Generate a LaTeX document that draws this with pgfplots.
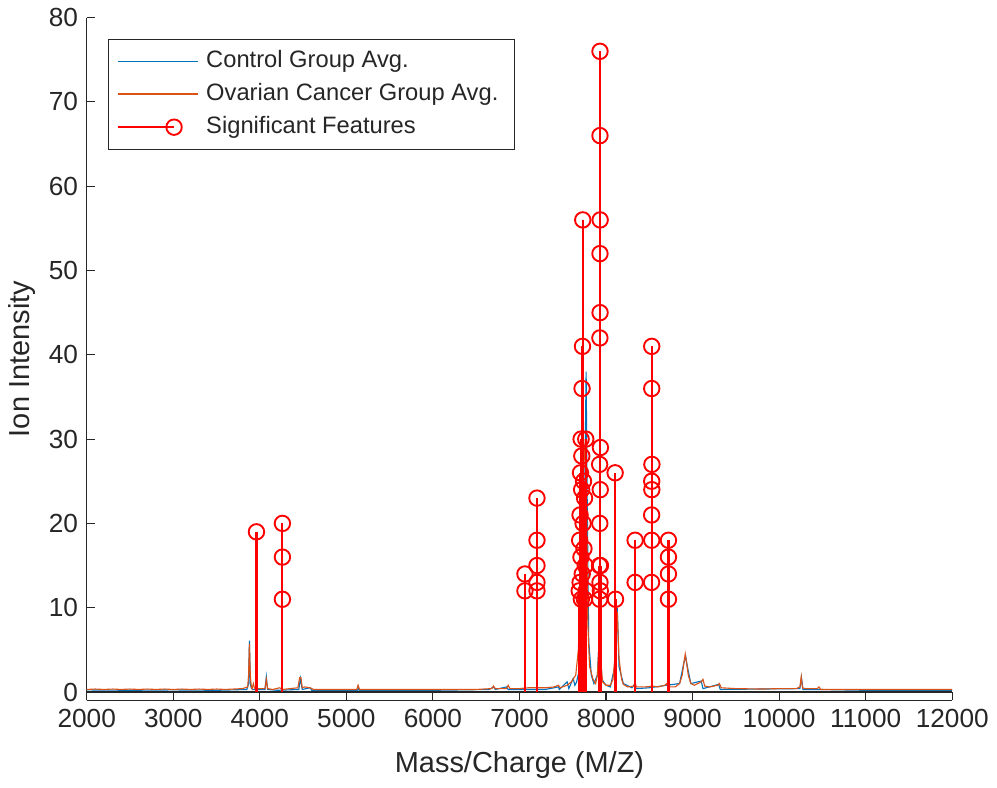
\documentclass[border=0pt]{standalone}
\usepackage{fontspec}
\setmainfont{Liberation Sans}
\usepackage{pgfplots}
\pgfplotsset{compat=1.18}
\definecolor{axcol}{rgb}{0.15,0.15,0.15}
\definecolor{mblue}{rgb}{0,0.447,0.741}
\definecolor{morange}{rgb}{0.85,0.325,0.098}
\begin{document}
\begin{tikzpicture}
\begin{axis}[
  scale only axis, width=346.8pt, height=273.6pt,
  xmin=2000, xmax=12000, ymin=-1, ymax=80,
  xtick={2000,3000,...,12000}, ytick={0,10,...,80},
  scaled x ticks=false, scaled y ticks=false,
  axis x line*=bottom, axis y line*=left,
  axis line style={draw=axcol, line width=0.45pt, -},
  tick align=inside, major tick length=3.2pt,
  every tick/.style={axcol, line width=0.45pt},
  ticklabel style={font=\fontsize{10.5}{12}\selectfont, text=axcol},
  /pgf/number format/assume math mode=true,
  /pgf/number format/1000 sep={},
  xlabel={Mass/Charge (M/Z)}, ylabel={Ion Intensity},
  label style={font=\fontsize{11.6}{13}\selectfont, text=axcol},
  xlabel style={at={(axis description cs:0.5,-0.095)}, anchor=center},
  ylabel style={at={(axis description cs:-0.075,0.5)}, anchor=center},
  legend cell align=left,
  legend image code/.code={\draw[#1, line width=0.6pt] (0pt,0pt) -- (32pt,0pt);},
  legend style={at={(0.0242,0.969)}, anchor=north west, draw=axcol, line width=0.45pt,
    fill=white, font=\fontsize{9.5}{11}\selectfont, text=axcol,
    inner xsep=3.6pt, inner ysep=2.2pt,
    nodes={inner ysep=1.9pt, inner xsep=3pt, text height=7.2pt, text depth=2.2pt}},
]
\addplot[mblue, line width=0.45pt] coordinates {
(2000,0.25) (2500,0.2) (3000,0.25) (3500,0.2) (3850,0.3) (3870,1) (3880,6.1) (3890,1) (3900,0.5) (3920,0.3)
(4060,0.3) (4075,1.8) (4090,0.3) (4200,0.2) (4450,0.3) (4470,1.6) (4490,0.3) (4580,0.5) (4600,0.2)
(5130,0.2) (5140,0.6) (5150,0.2) (6000,0.2) (6650,0.3) (6700,0.6) (6720,0.3) (6850,0.6) (6870,0.3)
(7300,0.3) (7450,0.6) (7460,0.3) (7550,1.2) (7570,0.4) (7620,1.6) (7640,0.8) (7660,1.2) (7700,3) (7730,12) (7750,20) (7770,38) (7780,25) (7800,6)
(7830,2) (7860,1) (7900,2) (7930,8) (7950,1.5) (8000,0.8) (8050,0.6) (8100,3) (8130,10) (8150,3) (8200,1)
(8300,0.5) (8330,0.9) (8350,0.4) (8500,0.5) (8700,0.8) (8850,1) (8900,3.5) (8920,4.2) (8940,3) (8980,1)
(9100,1.3) (9120,0.4) (9300,0.9) (9320,0.3) (10240,0.4) (10258,1.7) (10275,0.3) (10450,0.3) (11000,0.2) (12000,0.2)
};
\addlegendentry{Control Group Avg.}
\addplot[morange, line width=0.45pt] coordinates {
(2000,0.3) (2100,0.35) (2200,0.3) (2300,0.35) (2400,0.3) (2500,0.35) (2600,0.3) (2700,0.35) (2800,0.3) (2900,0.35)
(3000,0.3) (3100,0.35) (3200,0.3) (3300,0.35) (3400,0.3) (3500,0.35) (3600,0.3) (3700,0.35) (3800,0.4) (3860,0.6)
(3870,2) (3880,5.7) (3890,2) (3900,0.8) (3910,0.4) (3925,1.0) (3940,0.4) (4000,0.4) (4060,0.4) (4075,1.5) (4090,0.4)
(4150,0.3) (4230,0.5) (4260,0.3) (4440,0.5) (4460,1.7) (4475,1.7) (4490,0.5) (4520,0.6) (4580,0.5) (4620,0.3)
(4700,0.3) (5000,0.3) (5120,0.3) (5135,0.8) (5150,0.3) (5500,0.3) (6000,0.3) (6500,0.3) (6680,0.4) (6700,0.7)
(6720,0.4) (6850,0.4) (6870,0.8) (6890,0.4) (7000,0.4) (7100,0.5) (7300,0.5) (7400,0.6) (7450,0.8) (7470,0.5)
(7550,0.8) (7600,1.2) (7650,2) (7680,5) (7700,10) (7720,18) (7740,26) (7760,30) (7775,22) (7790,8) (7810,3)
(7850,1.5) (7880,1) (7900,2) (7915,5) (7930,7) (7945,3) (7960,1.2) (8000,0.8) (8050,0.8) (8080,1.5) (8110,5)
(8130,9.5) (8150,4) (8180,1.5) (8200,0.9) (8250,0.6) (8320,0.7) (8335,1.2) (8350,0.6) (8450,0.6) (8540,0.7)
(8600,0.6) (8680,0.8) (8700,1) (8720,0.6) (8800,0.6) (8850,1) (8880,2) (8900,3.5) (8915,4.5) (8930,3.5)
(8950,2) (8980,1) (9020,0.8) (9100,1.2) (9120,1.5) (9140,0.7) (9200,0.6) (9290,0.8) (9310,1) (9330,0.5)
(9500,0.4) (9800,0.35) (10000,0.4) (10200,0.4) (10240,0.6) (10255,1.8) (10270,0.5) (10300,0.4) (10440,0.4)
(10460,0.6) (10480,0.3) (10700,0.3) (11000,0.3) (11500,0.3) (12000,0.3)
};
\addlegendentry{Ovarian Cancer Group Avg.}
\addplot[axcol, line width=0.45pt, forget plot] coordinates {(2000,0) (12000,0)};
\addplot[red, line width=0.85pt, ycomb, mark=o, mark size=3.1pt, mark options={solid, line width=0.75pt}, forget plot] coordinates {
(3961,19) (4261,20) (4261,16) (4261,11)
(7063,14) (7063,12)
(7202,23) (7202,18) (7202,15) (7202,13) (7202,12)
(7731,56) (7728,41) (7723,36) (7712,30) (7766,30) (7720,28) (7705,26) (7740,25) (7718,24) (7752,23)
(7700,21) (7735,20) (7695,18) (7745,17) (7710,16) (7760,15) (7725,14) (7700,13) (7770,12) (7690,12)
(7750,11) (7715,11)
(7930,76) (7930,66) (7932,56) (7930,52) (7931,45) (7929,42) (7935,29) (7926,27) (7933,24) (7928,20)
(7936,15) (7924,15) (7930,13) (7934,12) (7927,11)
(8105,26) (8110,11)
(8336,18) (8336,13)
(8528,41) (8528,36) (8530,27) (8528,25) (8529,24) (8527,21) (8528,18) (8526,13)
(8721,18) (8721,16) (8721,14) (8721,11)
};
\addlegendimage{draw=red, line width=0.75pt, legend image code/.code={\draw[draw=red, line width=0.75pt] (0pt,0pt) -- (22.4pt,0pt);
    \draw[draw=red, line width=0.75pt] (22.4pt,0pt) circle[radius=3.1pt];}}
\addlegendentry{Significant Features}
\end{axis}
\end{tikzpicture}
\end{document}
